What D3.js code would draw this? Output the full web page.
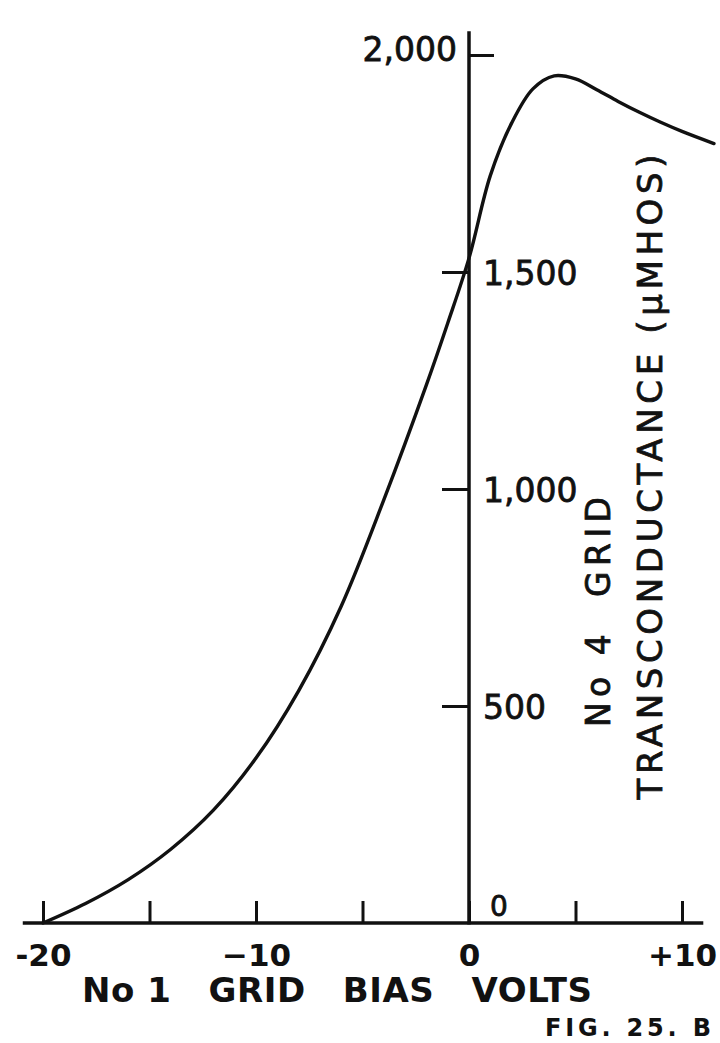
<!DOCTYPE html>
<html>
<head>
<meta charset="utf-8">
<script src="https://cdn.jsdelivr.net/npm/d3@7"></script>
<style>
  html, body { margin: 0; padding: 0; background: #fff; }
  svg { display: block; }
  text { font-family: "DejaVu Sans", sans-serif; fill: #111; }
  .medium { stroke: #111; stroke-width: 0.8px; }
</style>
</head>
<body>
<svg id="chart" width="720" height="1043"></svg>
<script>
// No 1 grid bias (volts) against No 4 grid transconductance (micromhos)
const biasVolts        = [-20, -18, -16, -14, -12, -10, -8, -6, -4, -2, -1, 0, 1, 2, 3, 4, 5, 6, 7, 8, 9, 10, 11.5];
const transconductance = [0, 45, 100, 170, 260, 380, 535, 730, 975, 1240, 1382, 1532, 1722, 1843, 1922, 1952, 1945, 1920, 1893, 1868, 1845, 1824, 1796];

const xTickValues = [-20, -15, -10, -5, 0, 5, 10];
const xTickLabels = ["-20", "", "\u221210", "", "0", "", "+10"];
const yTickValues = [0, 500, 1000, 1500, 2000];
const yTickLabels = ["0", "500", "1,000", "1,500", "2,000"];

const xAxisTitle = "No 1   GRID   BIAS   VOLTS";
const yAxisTitleInner = "No 4  GRID";
const yAxisTitleOuter = "TRANSCONDUCTANCE (\u00b5MHOS)";
const figureLabel = "FIG. 25. B";

const svg = d3.select("#chart");
const ink = "#111";

const x = d3.scaleLinear().domain([-20, 10]).range([43, 682]);
const y = d3.scaleLinear().domain([0, 2000]).range([923, 55]);

// axis lines run a little past the labelled range
const xLineExtent = [-20.95, 11];
const yLineTop = 2055;

// ---- x axis: ticks point up into the plot, labels underneath
const xAxis = svg.append("g")
  .attr("transform", `translate(0,${y(0)})`)
  .call(d3.axisBottom(x)
    .tickValues(xTickValues)
    .tickFormat((d, i) => xTickLabels[i])
    .tickSize(-22)
    .tickPadding(21));
xAxis.select(".domain").remove();
xAxis.selectAll(".tick line").attr("stroke", ink).attr("stroke-width", 3);
xAxis.selectAll(".tick text")
  .attr("fill", ink)
  .attr("font-family", "DejaVu Sans, sans-serif")
  .attr("font-size", 31)
  .attr("font-weight", "bold");

svg.append("line")
  .attr("x1", x(xLineExtent[0])).attr("x2", x(xLineExtent[1]))
  .attr("y1", y(0)).attr("y2", y(0))
  .attr("stroke", ink).attr("stroke-width", 3.5);

// ---- y axis: vertical line at zero bias
svg.append("line")
  .attr("x1", x(0)).attr("x2", x(0))
  .attr("y1", y(0) + 1.5).attr("y2", y(yLineTop))
  .attr("stroke", ink).attr("stroke-width", 3.5);

// ticks below the top one sit on the left, the top one on the right
const yLeft = svg.append("g")
  .attr("transform", `translate(${x(0)},0)`)
  .call(d3.axisLeft(y).tickValues(yTickValues.slice(1, -1)).tickSize(27).tickFormat(""));
yLeft.select(".domain").remove();
yLeft.selectAll(".tick line").attr("stroke", ink).attr("stroke-width", 3);

const yRight = svg.append("g")
  .attr("transform", `translate(${x(0)},0)`)
  .call(d3.axisRight(y).tickValues(yTickValues.slice(-1)).tickSize(25).tickFormat(""));
yRight.select(".domain").remove();
yRight.selectAll(".tick line").attr("stroke", ink).attr("stroke-width", 3);

// y tick labels
const yLabels = svg.append("g").attr("font-size", 33);
yTickValues.forEach((v, i) => {
  const t = yLabels.append("text").attr("class", "medium").text(yTickLabels[i]);
  if (i === yTickValues.length - 1) {
    t.attr("x", x(0) - 12).attr("y", y(v) + 6).attr("text-anchor", "end");
  } else if (v === 0) {
    t.attr("x", x(0) + 21).attr("y", y(v) - 7).attr("font-size", 28);
  } else {
    t.attr("x", x(0) + 14).attr("y", y(v)).attr("dy", "0.4em");
  }
});

// ---- curve
const points = biasVolts.map((v, i) => ({ v, g: transconductance[i] }));
const line = d3.line()
  .x(d => x(d.v))
  .y(d => y(d.g))
  .curve(d3.curveCatmullRom.alpha(0.5));
svg.append("path")
  .datum(points)
  .attr("d", line)
  .attr("fill", "none")
  .attr("stroke", ink)
  .attr("stroke-width", 3.4)
  .attr("stroke-linejoin", "round")
  .attr("stroke-linecap", "round");

// ---- axis titles
svg.append("text")
  .attr("x", 337).attr("y", 1002)
  .attr("text-anchor", "middle")
  .attr("font-size", 34)
  .attr("font-weight", "bold")
  .attr("textLength", 510)
  .attr("lengthAdjust", "spacing")
  .style("white-space", "pre")
  .text(xAxisTitle);

svg.append("text")
  .attr("class", "medium")
  .attr("transform", "translate(610,612) rotate(-90)")
  .attr("text-anchor", "middle")
  .attr("font-size", 33)
  .attr("textLength", 230)
  .attr("lengthAdjust", "spacing")
  .style("white-space", "pre")
  .text(yAxisTitleInner);

svg.append("text")
  .attr("class", "medium")
  .attr("transform", "translate(662,477) rotate(-90)")
  .attr("text-anchor", "middle")
  .attr("font-size", 34)
  .attr("textLength", 645)
  .attr("lengthAdjust", "spacing")
  .text(yAxisTitleOuter);

// ---- figure caption
svg.append("text")
  .attr("x", 545).attr("y", 1036)
  .attr("font-size", 24)
  .attr("font-weight", "bold")
  .attr("textLength", 166)
  .attr("lengthAdjust", "spacing")
  .text(figureLabel);
</script>
</body>
</html>
